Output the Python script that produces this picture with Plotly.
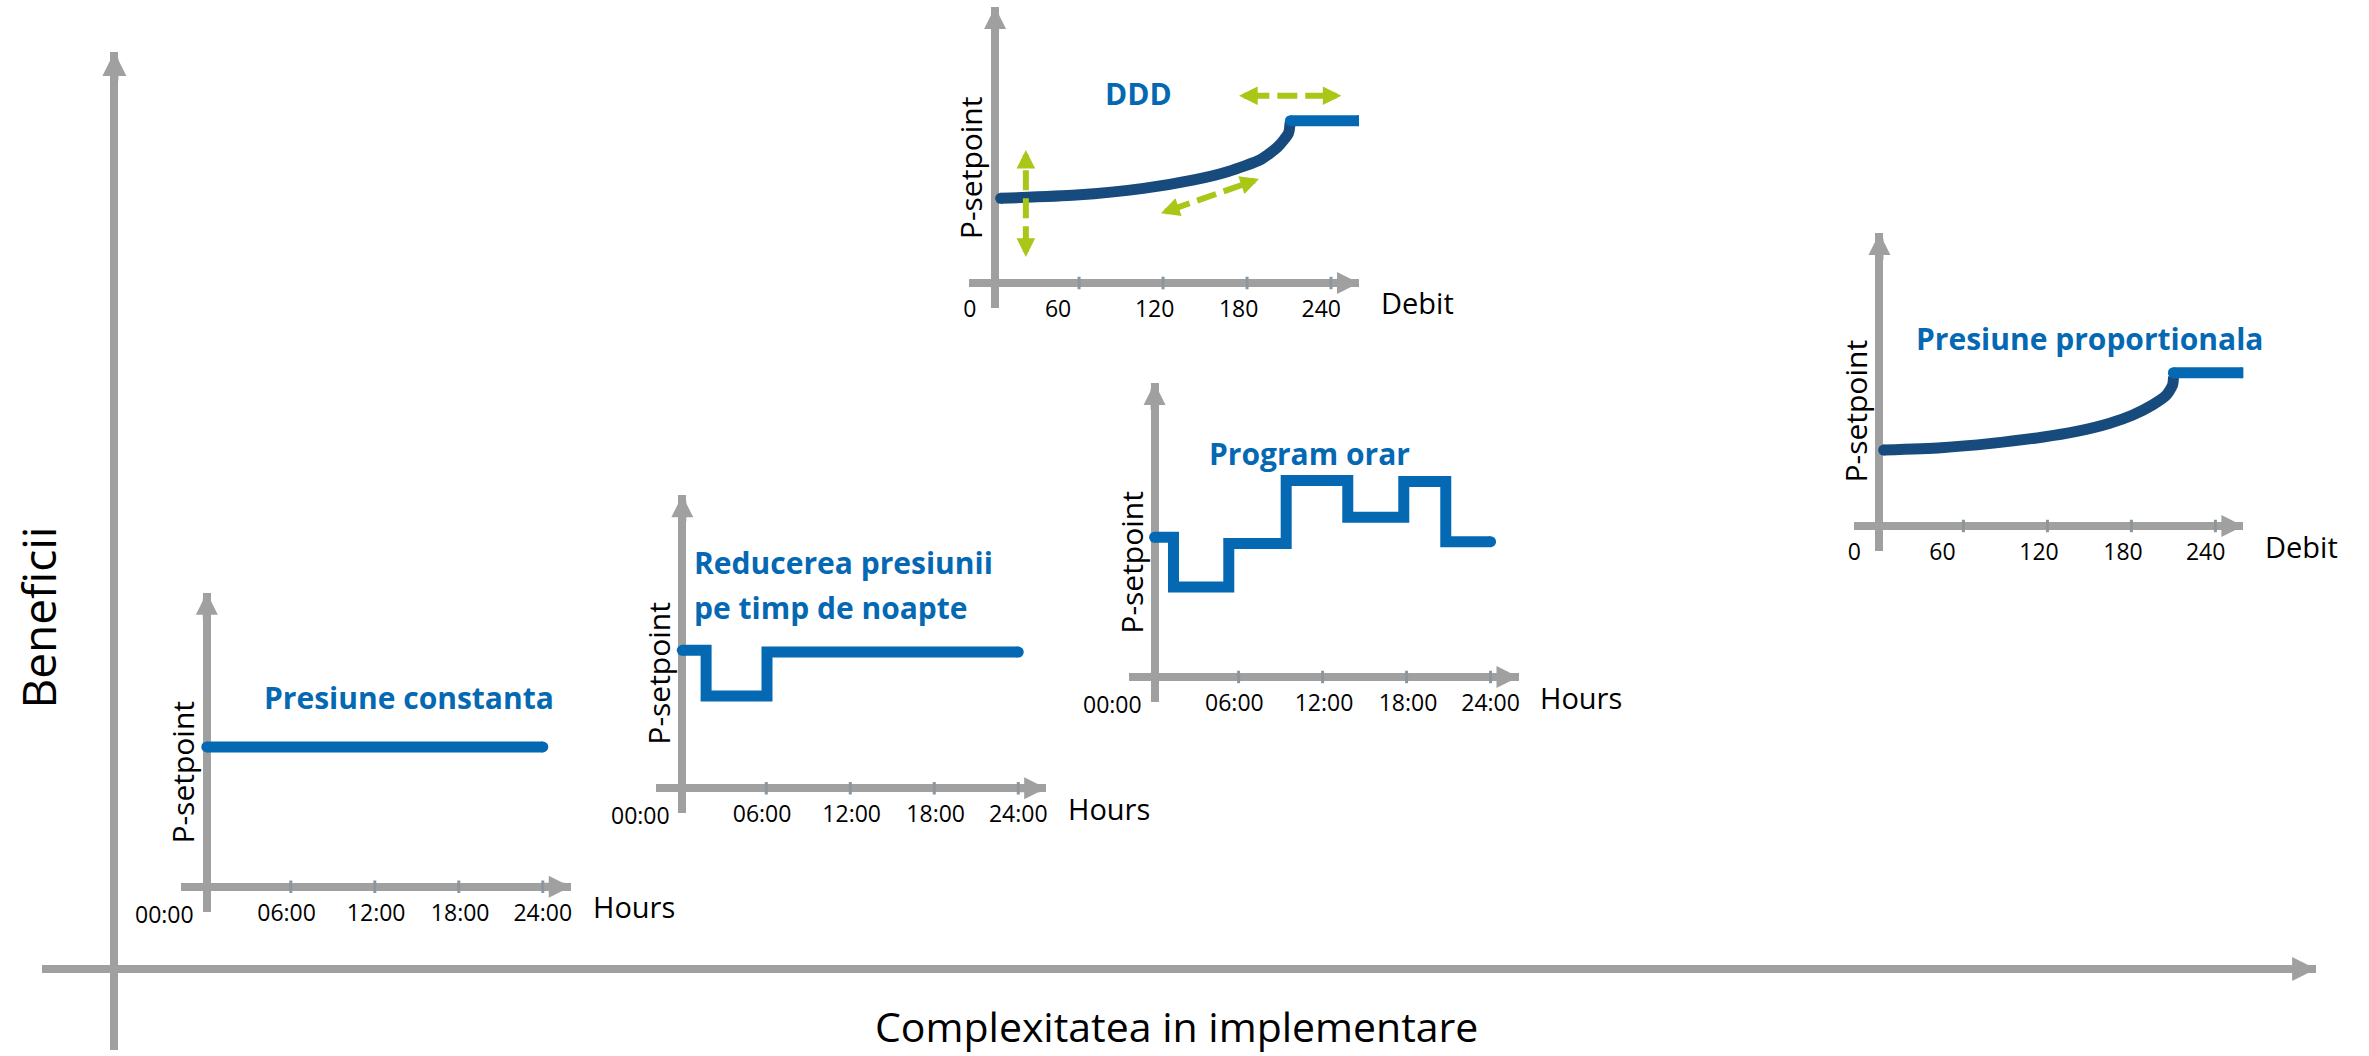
import plotly.graph_objects as go

W, H = 2369, 1056
FONT = "Open Sans"
GRAY = "#a0a0a0"
TICKC = "#8e969d"
BLUE = "#0568b3"
NAVY = "#174b7e"
GREEN = "#a8c716"

# ---------------- data ----------------
hour_tick_values = [6, 12, 18, 24]
hour_label_positions = [-3.0, 5.7, 12.1, 18.1, 24.0]
hour_labels = ["00:00", "06:00", "12:00", "18:00", "24:00"]

debit_tick_values = [60, 120, 180, 240]
debit_label_positions = [-18, 45, 114, 174, 233]
debit_labels = ["0", "60", "120", "180", "240"]

const_hours = [0, 24]
const_p = [4.77, 4.77]

night_hours = [0, 1.7, 6.05, 24]
night_p = [4.71, 3.15, 4.65, 4.65]

prog_hours = [0, 1.35, 5.3, 9.4, 13.8, 17.8, 20.8, 24]
prog_p = [4.77, 3.07, 4.56, 6.71, 5.45, 6.67, 4.62, 4.62]

ddd_curve_debit = [4, 58, 106, 142, 166, 190, 202, 209.6, 210.8]
ddd_curve_p = [2.89, 3.0, 3.23, 3.52, 3.80, 4.22, 4.65, 5.11, 5.5]
ddd_flat_debit = [211, 260]
ddd_flat_p = [5.54, 5.54]

prop_curve_debit = [3, 44, 80, 116, 140, 164, 181, 195, 205, 209.4, 210.1]
prop_curve_p = [2.59, 2.67, 2.82, 3.03, 3.22, 3.5, 3.79, 4.13, 4.47, 4.81, 5.1]
prop_flat_debit = [210, 259]
prop_flat_p = [5.23, 5.23]

ddd_arrow_from_debit = [22, 118.5, 174.3]
ddd_arrow_from_p = [0.89, 2.38, 6.39]
ddd_arrow_to_debit = [22, 188.5, 247.4]
ddd_arrow_to_p = [4.54, 3.55, 6.39]

x_title = "Complexitatea in implementare"
y_title = "Beneficii"
p_title = "P-setpoint"

# ---------------- layout geometry (pixels) ----------------
def px(x):
    return x / W


def py(y):
    return 1 - y / H


LEFT_EXT, BOTTOM_EXT, X_TIP = 26, 25, 365
Y_SCALE = 29.3

charts = [
    dict(n=2, ox=201.4, oy=886.7, xs=14.04, y_tip=294, kind="hours",
         titles=["Presiune constanta"], tdx=55, tdy=[-189]),
    dict(n=3, ox=678.3, oy=788.3, xs=14.04, y_tip=293, kind="hours",
         titles=["Reducerea presiunii", "pe timp de noapte"], tdx=10, tdy=[-226, -181]),
    dict(n=4, ox=1152, oy=677, xs=14.04, y_tip=294, kind="hours",
         titles=["Program orar"], tdx=53, tdy=[-224]),
    dict(n=5, ox=992, oy=283, xs=1.404, y_tip=276, kind="debit",
         titles=["DDD"], tdx=108, tdy=[-190]),
    dict(n=6, ox=1879, oy=526, xs=1.404, y_tip=293, kind="debit",
         titles=["Presiune proportionala"], tdx=35, tdy=[-188]),
]

fig = go.Figure()
annotations = []
layout = dict(
    width=W, height=H,
    margin=dict(l=0, r=0, t=0, b=0, pad=0),
    paper_bgcolor="white", plot_bgcolor="rgba(0,0,0,0)",
    showlegend=False, hovermode=False,
    font=dict(family=FONT, color="black"),
)

# main axes
MO_X, MO_Y = 108.7, 969
M_LEFT, M_RIGHT, M_TOP, M_BOTTOM = 36, 2317, 52, 1050
layout["xaxis"] = dict(domain=[px(M_LEFT), px(M_RIGHT)], range=[-(MO_X - M_LEFT), M_RIGHT - MO_X],
                       showgrid=False, showticklabels=False, ticks="", zeroline=True,
                       zerolinecolor=GRAY, zerolinewidth=8, fixedrange=True)
layout["yaxis"] = dict(domain=[py(M_BOTTOM), py(M_TOP)], range=[-(M_BOTTOM - MO_Y), MO_Y - M_TOP],
                       showgrid=False, showticklabels=False, ticks="", zeroline=True,
                       zerolinecolor=GRAY, zerolinewidth=8, fixedrange=True)
fig.add_trace(go.Scatter(x=[], y=[], xaxis="x", yaxis="y"))
annotations.append(dict(x=M_RIGHT - MO_X, y=0, xref="x", yref="y", ax=-30, ay=0, text="",
                        showarrow=True, arrowhead=2, arrowsize=0.6, arrowwidth=8, arrowcolor=GRAY))
annotations.append(dict(x=0, y=MO_Y - M_TOP, xref="x", yref="y", ax=0, ay=30, text="",
                        showarrow=True, arrowhead=2, arrowsize=0.6, arrowwidth=8, arrowcolor=GRAY))
annotations.append(dict(x=px(1174), y=py(1026), xref="paper", yref="paper", text=x_title,
                        showarrow=False, font=dict(size=41, family=FONT, color="black"),
                        xanchor="center", yanchor="middle"))
annotations.append(dict(x=px(31.6), y=py(618), xref="paper", yref="paper", text=y_title,
                        showarrow=False, textangle=-90, font=dict(size=46, family=FONT, color="black"),
                        xanchor="center", yanchor="middle"))

for c in charts:
    n, ox, oy, xs = c["n"], c["ox"], c["oy"], c["xs"]
    xa, ya = f"x{n}", f"y{n}"
    if c["kind"] == "hours":
        tickpos, ticktext, tickmarks, xname = hour_label_positions, hour_labels, hour_tick_values, "Hours"
    else:
        tickpos, ticktext, tickmarks, xname = debit_label_positions, debit_labels, debit_tick_values, "Debit"
    x_lo = -LEFT_EXT / xs
    inside = [(p, t) for p, t in zip(tickpos, ticktext) if p >= x_lo]
    outside = [(p, t) for p, t in zip(tickpos, ticktext) if p < x_lo]
    layout[f"xaxis{n}"] = dict(
        domain=[px(ox - LEFT_EXT), px(ox + X_TIP)], range=[x_lo, X_TIP / xs],
        anchor="free", position=py(oy + 10),
        showgrid=False, showline=False, ticks="", zeroline=True, zerolinecolor=GRAY, zerolinewidth=8,
        tickmode="array", tickvals=[p for p, _ in inside], ticktext=[t for _, t in inside],
        tickfont=dict(size=23, family=FONT, color="black"), fixedrange=True)
    layout[f"yaxis{n}"] = dict(
        domain=[py(oy + BOTTOM_EXT), py(oy - c["y_tip"])],
        range=[-BOTTOM_EXT / Y_SCALE, c["y_tip"] / Y_SCALE], anchor=xa,
        showgrid=False, showline=False, ticks="", showticklabels=False,
        zeroline=True, zerolinecolor=GRAY, zerolinewidth=8, fixedrange=True)
    # labels that sit left of the drawn axis range
    for p, t in outside:
        annotations.append(dict(x=px(ox + p * xs), y=py(oy + 27), xref="paper", yref="paper", text=t,
                                showarrow=False, font=dict(size=23, family=FONT, color="black"),
                                xanchor="center", yanchor="middle"))
    # tick marks on the horizontal axis
    fig.add_trace(go.Scatter(x=tickmarks, y=[0] * len(tickmarks), xaxis=xa, yaxis=ya, mode="markers",
                             marker=dict(symbol="line-ns", size=9, line=dict(width=3, color=TICKC))))
    # arrow heads
    annotations.append(dict(x=X_TIP / xs, y=0, xref=xa, yref=ya, ax=-28, ay=0, text="",
                            showarrow=True, arrowhead=2, arrowsize=0.55, arrowwidth=8, arrowcolor=GRAY))
    annotations.append(dict(x=0, y=c["y_tip"] / Y_SCALE, xref=xa, yref=ya, ax=0, ay=28, text="",
                            showarrow=True, arrowhead=2, arrowsize=0.55, arrowwidth=8, arrowcolor=GRAY))
    # axis texts
    annotations.append(dict(x=px(ox - 24), y=py(oy - 115), xref="paper", yref="paper", text=p_title,
                            showarrow=False, textangle=-90, font=dict(size=30, family=FONT, color="black"),
                            xanchor="center", yanchor="middle"))
    annotations.append(dict(x=px(ox + 385), y=py(oy + 20), xref="paper", yref="paper", text=xname,
                            showarrow=False, font=dict(size=29, family=FONT, color="black"),
                            xanchor="left", yanchor="middle"))
    for t, dy in zip(c["titles"], c["tdy"]):
        annotations.append(dict(x=px(ox + c["tdx"]), y=py(oy + dy), xref="paper", yref="paper", text=t,
                                showarrow=False, font=dict(size=30, family=FONT, color=BLUE, weight="bold"),
                                xanchor="left", yanchor="middle"))


def add_line(x, y, axis_n, color, shape="linear", caps=(True, True), **kw):
    sizes = [0] * len(x)
    if caps[0]:
        sizes[0] = 11
    if caps[1]:
        sizes[-1] = 11
    fig.add_trace(go.Scatter(x=x, y=y, xaxis=f"x{axis_n}", yaxis=f"y{axis_n}", mode="lines+markers",
                             line=dict(color=color, width=11, shape=shape, **kw),
                             marker=dict(size=sizes, color=color, opacity=1, line=dict(width=0))))


add_line(const_hours, const_p, 2, BLUE)
add_line(night_hours, night_p, 3, BLUE, shape="hv")
add_line(prog_hours, prog_p, 4, BLUE, shape="hv")
add_line(ddd_curve_debit, ddd_curve_p, 5, NAVY, shape="spline", caps=(True, False), smoothing=0.6)
add_line(ddd_flat_debit, ddd_flat_p, 5, BLUE)
add_line(prop_curve_debit, prop_curve_p, 6, NAVY, shape="spline", caps=(True, False), smoothing=0.6)
add_line(prop_flat_debit, prop_flat_p, 6, BLUE)

# green dashed double arrows in the DDD chart
for x0, y0, x1, y1 in zip(ddd_arrow_from_debit, ddd_arrow_from_p, ddd_arrow_to_debit, ddd_arrow_to_p):
    dx, dy = x1 - x0, y1 - y0
    fig.add_trace(go.Scatter(x=[x0 + 0.1 * dx, x1 - 0.1 * dx], y=[y0 + 0.1 * dy, y1 - 0.1 * dy],
                             xaxis="x5", yaxis="y5", mode="lines",
                             line=dict(color=GREEN, width=6, dash="20px,8px")))
    for (hx, hy, tx, ty) in [(x1, y1, x1 - 0.17 * dx, y1 - 0.17 * dy), (x0, y0, x0 + 0.17 * dx, y0 + 0.17 * dy)]:
        annotations.append(dict(x=hx, y=hy, ax=tx, ay=ty, xref="x5", yref="y5", axref="x5", ayref="y5",
                                text="", showarrow=True, arrowhead=2, arrowsize=0.62, arrowwidth=6,
                                arrowcolor=GREEN))

layout["annotations"] = annotations
fig.update_layout(**layout)
fig.write_html("out.html", config={"displayModeBar": False, "staticPlot": True},
               post_script="document.body.style.margin='0';")
